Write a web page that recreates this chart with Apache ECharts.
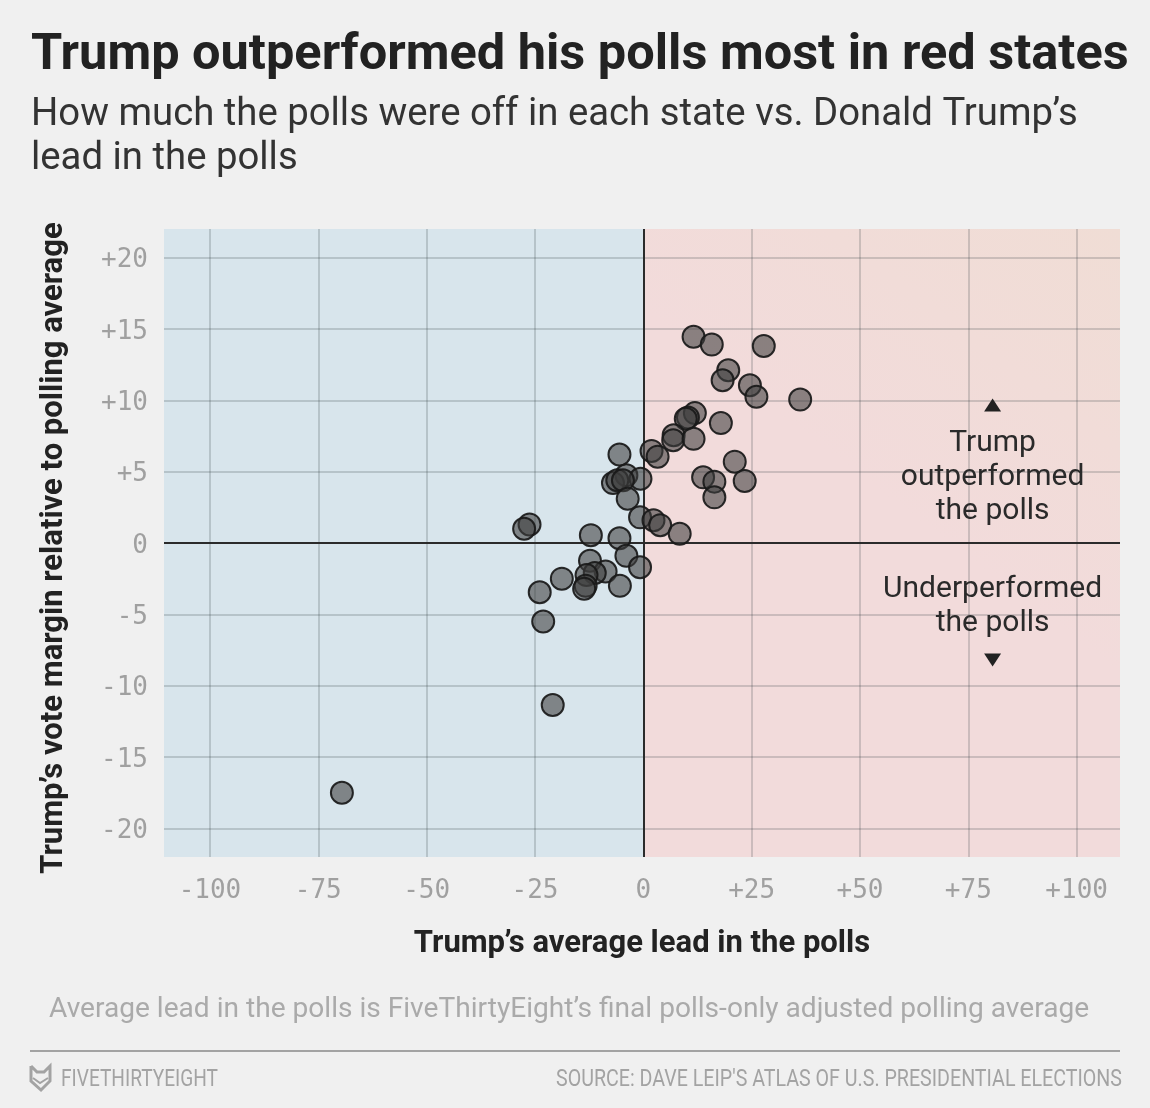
<!DOCTYPE html>
<html>
<head>
<meta charset="utf-8">
<style>
  html, body { margin: 0; padding: 0; background: #f0f0f0; }
  #chart { width: 1150px; height: 1108px; }
</style>
<script src="https://cdn.jsdelivr.net/npm/echarts@6/dist/echarts.min.js"></script>
</head>
<body>
<div id="chart"></div>
<script>
// average poll lead, vote margin relative to polls
const states = [
  [11.6, 14.45], [15.8, 13.9], [27.8, 13.8], [19.6, 12.1], [18.3, 11.4], [24.6, 11.05],
  [26.1, 10.25], [36.2, 10.05], [11.9, 9.1], [10.3, 8.8], [9.8, 8.7], [17.9, 8.4],
  [7.0, 7.55], [6.9, 7.2], [11.6, 7.3], [1.9, 6.45], [3.3, 6.05], [-5.5, 6.2],
  [21.1, 5.7], [-3.9, 4.75], [-0.65, 4.5], [-7.0, 4.2], [-6.0, 4.4], [-4.7, 4.4],
  [13.8, 4.6], [16.4, 4.3], [23.4, 4.35], [16.4, 3.2], [-3.6, 3.1], [-0.75, 1.8],
  [2.35, 1.6], [3.9, 1.25], [8.4, 0.65], [-26.25, 1.3], [-27.5, 1.0], [-12.1, 0.55],
  [-5.5, 0.33], [-3.9, -0.9], [-0.75, -1.7], [-12.3, -1.25], [-8.7, -2.0], [-11.2, -2.1],
  [-13.1, -2.25], [-18.8, -2.5], [-5.4, -3.0], [-13.3, -3.0], [-13.65, -3.2], [-23.9, -3.45],
  [-23.1, -5.5], [-20.9, -11.35], [-69.55, -17.5]
];
const xTicks = [-100, -75, -50, -25, 0, 25, 50, 75, 100];
const yTicks = [-20, -15, -10, -5, 0, 5, 10, 15, 20];
const xRange = [-110.6, 110];
const yRange = [-22, 22];
const arrowsUp = [[80.6, 9.67]];
const arrowsDown = [[80.6, -8.2]];
const notes = [
  [80.6, 4.62, 'Trump\noutperformed\nthe polls'],
  [80.6, -4.48, 'Underperformed\nthe polls']
];

const signed = v => (v > 0 ? '+' + v : String(v));
const sans = 'Roboto';
const mono = '"DejaVu Sans Mono"';
const gridLine = { show: true, lineStyle: { color: 'rgba(50,60,65,0.2)', width: 2 } };

// footer type is condensed, squeeze Roboto to the measured width
const measure = document.createElement('canvas').getContext('2d');
function squeeze(text, font, width) {
  measure.font = font;
  return width / measure.measureText(text).width;
}
const brand = 'FIVETHIRTYEIGHT';
const source = 'SOURCE: DAVE LEIP\'S ATLAS OF U.S. PRESIDENTIAL ELECTIONS';
const footFont = '24px ' + sans;

const chart = echarts.init(document.getElementById('chart'));
chart.setOption({
  backgroundColor: '#f0f0f0',
  animation: false,
  grid: { left: 164, top: 229, width: 956, height: 628 },
  xAxis: {
    type: 'value', min: xRange[0], max: xRange[1], z: 2,
    axisLine: { show: false },
    axisTick: { show: false, customValues: xTicks },
    splitLine: gridLine,
    axisLabel: { customValues: xTicks, formatter: signed, margin: 21, color: '#a0a0a0', fontFamily: mono, fontSize: 26 },
    name: 'Trump\u2019s average lead in the polls', nameLocation: 'middle', nameGap: 72,
    nameTextStyle: { color: '#222', fontFamily: sans, fontWeight: 'bold', fontSize: 31 }
  },
  yAxis: {
    type: 'value', min: yRange[0], max: yRange[1], z: 2,
    axisLine: { show: false },
    axisTick: { show: false, customValues: yTicks },
    splitLine: gridLine,
    axisLabel: { customValues: yTicks, formatter: signed, margin: 16, verticalAlign: 'top', lineHeight: 6, color: '#a0a0a0', fontFamily: mono, fontSize: 26 },
    name: 'Trump\u2019s vote margin relative to polling average', nameLocation: 'middle', nameGap: 94,
    nameTextStyle: { color: '#222', fontFamily: sans, fontWeight: 'bold', fontSize: 31, padding: [0, 10, 0, 0] }
  },
  series: [
    {
      type: 'scatter', z: 1, data: [], silent: true,
      markArea: {
        silent: true, z: 1,
        data: [
          [{ xAxis: xRange[0], yAxis: yRange[0], itemStyle: { color: '#d8e5ec', opacity: 1 } }, { xAxis: 0, yAxis: yRange[1] }],
          [{
            xAxis: 0, yAxis: yRange[0],
            itemStyle: {
              opacity: 1,
              color: { type: 'linear', x: 1, y: 0, x2: 0.55, y2: 0.45, colorStops: [{ offset: 0, color: '#f0ddd5' }, { offset: 1, color: '#f2dbdb' }] }
            }
          }, { xAxis: xRange[1], yAxis: yRange[1] }]
        ]
      },
      markLine: {
        silent: true, symbol: 'none', z: 3, label: { show: false },
        lineStyle: { color: '#2b2b2b', width: 2, type: 'solid' },
        data: [{ xAxis: 0 }, { yAxis: 0 }]
      }
    },
    {
      type: 'scatter', z: 5, data: states, symbolSize: 22,
      itemStyle: { color: 'rgba(62,62,62,0.58)', borderColor: 'rgba(25,25,25,0.92)', borderWidth: 2, opacity: 1 }
    },
    { type: 'scatter', z: 6, data: arrowsUp, symbol: 'triangle', symbolSize: [17, 13], itemStyle: { color: '#222', opacity: 1 } },
    { type: 'scatter', z: 6, data: arrowsDown, symbol: 'triangle', symbolRotate: 180, symbolSize: [17, 13], itemStyle: { color: '#222', opacity: 1 } },
    {
      type: 'scatter', z: 6, data: notes, symbolSize: 0, itemStyle: { opacity: 1 },
      label: {
        show: true, position: 'inside', formatter: p => p.value[2],
        color: '#2a2a2a', fontFamily: sans, fontSize: 30, lineHeight: 34, align: 'center', verticalAlign: 'middle'
      }
    }
  ],
  graphic: [
    { type: 'text', left: 31, top: 31, style: { text: 'Trump outperformed his polls most in red states', fill: '#222', font: 'bold 50.5px ' + sans } },
    { type: 'text', left: 31, top: 93, style: { text: 'How much the polls were off in each state vs. Donald Trump\u2019s\nlead in the polls', fill: '#333', font: '38.3px ' + sans, lineHeight: 44 } },
    { type: 'text', left: 49, top: 996, style: { text: 'Average lead in the polls is FiveThirtyEight\u2019s final polls-only adjusted polling average', fill: '#aaa', font: '28.1px ' + sans } },
    { type: 'rect', shape: { x: 30, y: 1050, width: 1090, height: 2 }, style: { fill: '#a3a3a3' } },
    { type: 'polyline', shape: { points: [[31, 1066], [31, 1081], [41, 1090], [50, 1081], [50, 1066], [44, 1072], [37, 1072], [31, 1066]] }, style: { stroke: '#a3a3a3', fill: 'none', lineWidth: 3 } },
    { type: 'polyline', shape: { points: [[33, 1078], [40, 1083], [48, 1078]] }, style: { stroke: '#a3a3a3', fill: 'none', lineWidth: 2 } },
    { type: 'text', x: 61, y: 1068, scaleX: squeeze(brand, footFont, 157), style: { text: brand, fill: '#a3a3a3', font: footFont } },
    { type: 'text', x: 1122, y: 1068, scaleX: squeeze(source, footFont, 566), style: { text: source, fill: '#a3a3a3', font: footFont, align: 'right' } }
  ]
});
</script>
</body>
</html>
